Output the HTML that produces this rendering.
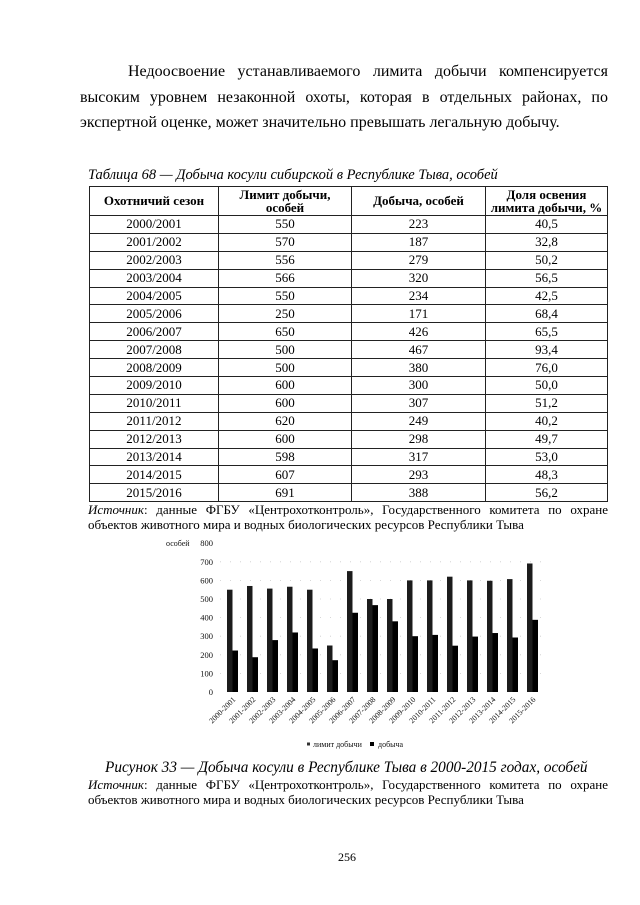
<!DOCTYPE html>
<html><head><meta charset="utf-8">
<style>
html,body{margin:0;padding:0;background:#fff;}
body{width:640px;height:905px;position:relative;overflow:hidden;font-family:"Liberation Serif","Noto Serif CJK SC",serif;color:#000;}
.abs{position:absolute;}
.para{left:80px;top:59px;width:528px;font-size:16px;line-height:25.5px;text-align:justify;text-indent:48px;}
.cap{font-style:italic;}
table{border-collapse:collapse;position:absolute;left:89px;top:186px;}
td,th{border:1px solid #222;padding:0;text-align:center;font-size:13px;line-height:14px;height:16.9px;}
th{font-size:13px;font-weight:bold;height:28px;line-height:13.5px;}
.src{left:88px;width:520px;font-size:13px;line-height:15px;text-align:justify;}
.src i{font-style:italic;}
</style></head><body>
<div class="abs para">Недоосвоение устанавливаемого лимита добычи компенсируется высоким уровнем незаконной охоты, которая в отдельных районах, по экспертной оценке, может значительно превышать легальную добычу.</div>

<div class="abs cap" style="left:88px;top:166px;font-size:14.5px;line-height:18px;">Таблица 68 — Добыча косули сибирской в Республике Тыва, особей</div>

<table>
<tr><th style="width:128px">Охотничий сезон</th><th style="width:132px">Лимит добычи,<br>особей</th><th style="width:133px">Добыча, особей</th><th style="width:121px">Доля освения<br>лимита добычи, %</th></tr>
<tr><td>2000/2001</td><td>550</td><td>223</td><td>40,5</td></tr>
<tr><td>2001/2002</td><td>570</td><td>187</td><td>32,8</td></tr>
<tr><td>2002/2003</td><td>556</td><td>279</td><td>50,2</td></tr>
<tr><td>2003/2004</td><td>566</td><td>320</td><td>56,5</td></tr>
<tr><td>2004/2005</td><td>550</td><td>234</td><td>42,5</td></tr>
<tr><td>2005/2006</td><td>250</td><td>171</td><td>68,4</td></tr>
<tr><td>2006/2007</td><td>650</td><td>426</td><td>65,5</td></tr>
<tr><td>2007/2008</td><td>500</td><td>467</td><td>93,4</td></tr>
<tr><td>2008/2009</td><td>500</td><td>380</td><td>76,0</td></tr>
<tr><td>2009/2010</td><td>600</td><td>300</td><td>50,0</td></tr>
<tr><td>2010/2011</td><td>600</td><td>307</td><td>51,2</td></tr>
<tr><td>2011/2012</td><td>620</td><td>249</td><td>40,2</td></tr>
<tr><td>2012/2013</td><td>600</td><td>298</td><td>49,7</td></tr>
<tr><td>2013/2014</td><td>598</td><td>317</td><td>53,0</td></tr>
<tr><td>2014/2015</td><td>607</td><td>293</td><td>48,3</td></tr>
<tr><td>2015/2016</td><td>691</td><td>388</td><td>56,2</td></tr>
</table>

<div class="abs src" style="top:502px;"><i>Источник</i>: данные ФГБУ «Центрохотконтроль», Государственного комитета по охране объектов животного мира и водных биологических ресурсов Республики Тыва</div>

<svg class="abs" style="left:0;top:0" width="640" height="905" viewBox="0 0 640 905" xmlns="http://www.w3.org/2000/svg">
<g font-family="Liberation Serif, serif" font-size="8" fill="#111">
<text x="166" y="546">особей</text>
<g text-anchor="end" font-size="8.5">
<text x="213" y="695">0</text>
<text x="213" y="676.4">100</text>
<text x="213" y="657.8">200</text>
<text x="213" y="639.2">300</text>
<text x="213" y="620.6">400</text>
<text x="213" y="602">500</text>
<text x="213" y="583.4">600</text>
<text x="213" y="564.8">700</text>
<text x="213" y="546.2">800</text>
</g>
</g>
<g stroke="#ccc" stroke-width="0.8" stroke-dasharray="1 9">
<line x1="220" y1="673.4" x2="545" y2="673.4"/>
<line x1="220" y1="654.8" x2="545" y2="654.8"/>
<line x1="220" y1="636.2" x2="545" y2="636.2"/>
<line x1="220" y1="617.6" x2="545" y2="617.6"/>
<line x1="220" y1="599" x2="545" y2="599"/>
<line x1="220" y1="580.4" x2="545" y2="580.4"/>
<line x1="220" y1="561.8" x2="545" y2="561.8"/>
</g>
<g id="bars"></g>
<g id="xl" font-family="Liberation Serif, serif" font-size="7.8" fill="#111" text-anchor="end"></g>
<g font-family="Liberation Serif, serif" font-size="8" fill="#111">
<rect x="307" y="742.5" width="3" height="3" fill="#333"/>
<text x="313" y="747">лимит добычи</text>
<rect x="370" y="742" width="4" height="4" fill="#000"/>
<text x="378" y="747">добыча</text>
</g>
</svg>

<div class="abs cap" style="left:105px;top:758px;font-size:15.3px;line-height:20px;">Рисунок 33 — Добыча косули в Республике Тыва в 2000-2015 годах, особей</div>
<div class="abs src" style="top:777px;"><i>Источник</i>: данные ФГБУ «Центрохотконтроль», Государственного комитета по охране объектов животного мира и водных биологических ресурсов Республики Тыва</div>

<div class="abs" style="left:338px;top:850px;font-size:12px;">256</div>

<script>
(function(){
var lim=[550,570,556,566,550,250,650,500,500,600,600,620,600,598,607,691];
var dob=[223,187,279,320,234,171,426,467,380,300,307,249,298,317,293,388];
var ns="http://www.w3.org/2000/svg";
var g=document.getElementById("bars"), xl=document.getElementById("xl");
for(var i=0;i<16;i++){
 var x=227+20*i;
 var r=document.createElementNS(ns,"rect");
 var h=lim[i]*0.186;
 r.setAttribute("x",x);r.setAttribute("y",692-h);r.setAttribute("width",5.5);r.setAttribute("height",h);r.setAttribute("fill","#1c1c1c");
 g.appendChild(r);
 var r2=document.createElementNS(ns,"rect");
 var h2=dob[i]*0.186;
 r2.setAttribute("x",x+5.5);r2.setAttribute("y",692-h2);r2.setAttribute("width",5.5);r2.setAttribute("height",h2);r2.setAttribute("fill","#000");
 g.appendChild(r2);
 var t=document.createElementNS(ns,"text");
 var tx=x+9, ty=700;
 t.setAttribute("x",tx);t.setAttribute("y",ty);
 t.setAttribute("transform","rotate(-45 "+tx+" "+ty+")");
 t.textContent=(2000+i)+"-"+(2001+i);
 xl.appendChild(t);
}
})();
</script>
</body></html>
